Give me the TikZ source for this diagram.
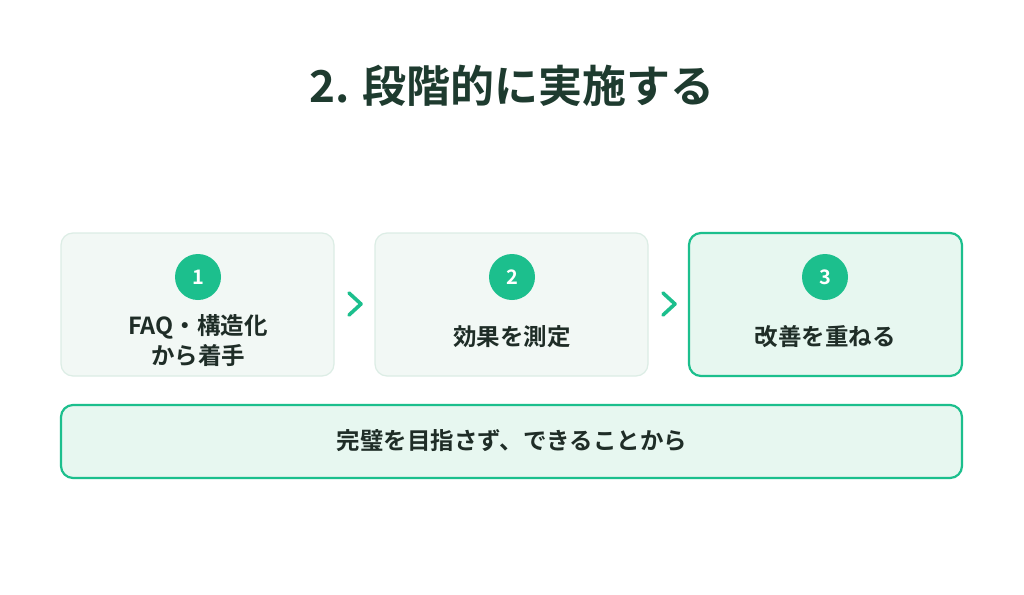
\documentclass[tikz,border=0pt]{standalone}
\usepackage{fontspec}
\usetikzlibrary{calc}
\setmainfont{Noto Sans CJK JP}[BoldFont={* Bold}]
\newfontfamily\jpb{Noto Sans CJK JP Bold}
\definecolor{accent}{HTML}{1CBF8D}
\definecolor{titlec}{HTML}{1E3B2F}
\definecolor{textc}{HTML}{1F2D27}
\definecolor{softfill}{HTML}{F2F8F5}
\definecolor{softline}{HTML}{DCEDE5}
\definecolor{hifill}{HTML}{E7F7F0}
\begin{document}
\begin{tikzpicture}[x=1pt,y=-1pt,
  softbox/.style={draw=softline, fill=softfill, line width=1.2pt, rounded corners=12pt},
  hibox/.style={draw=accent, fill=hifill, line width=2.2pt, rounded corners=12pt},
  numdot/.style={circle, fill=accent, minimum size=46pt, inner sep=0pt, text=white, font=\jpb\fontsize{20}{20}\selectfont},
  lbl/.style={text=textc, font=\jpb\fontsize{23.5}{30}\selectfont, align=center},
  chev/.style={draw=accent, line width=3.6pt, line cap=round, line join=round}]
\useasboundingbox (0,0) rectangle (1024,594);
\fill[white] (0,0) rectangle (1024,594);
\node[text=titlec, font=\jpb\fontsize{44}{44}\selectfont] (title) at (512,86) {2. 段階的に実施する};
\draw[softbox] (61,233) rectangle (334,376);
\draw[softbox] (375,233) rectangle (648,376);
\draw[hibox] (689,233) rectangle (962,376);
\draw[hibox] (61,405) rectangle (962,478);
\node[numdot] (n1) at (198,277) {1};
\node[numdot] (n2) at (512,277) {2};
\node[numdot] (n3) at (825,277) {3};
\node[lbl] (t1) at (198,341) {FAQ・構造化\\から着手};
\node[lbl] (t2) at (512,337) {効果を測定};
\node[lbl] (t3) at (825,337) {改善を重ねる};
\node[lbl] (tb) at (512,441) {完璧を目指さず、できることから};
\coordinate (a1) at (361,304);
\coordinate (a2) at (675,304);
\draw[chev] ($(a1)+(-12,-11)$) -- (a1) -- ($(a1)+(-12,11)$);
\draw[chev] ($(a2)+(-12,-11)$) -- (a2) -- ($(a2)+(-12,11)$);
\end{tikzpicture}
\end{document}
